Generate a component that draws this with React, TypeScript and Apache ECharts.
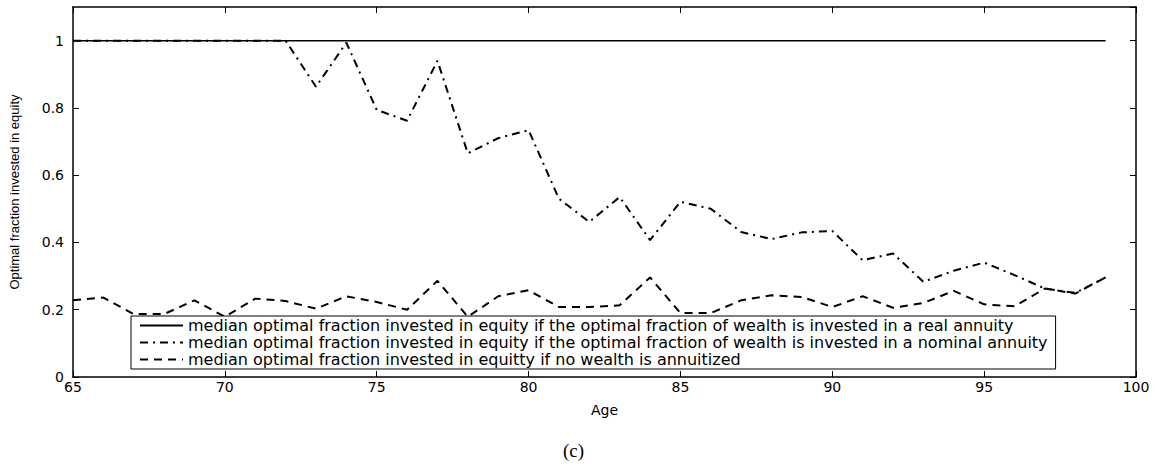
import React, { useEffect, useRef } from "react";
import * as echarts from "echarts";

const ages = [65, 66, 67, 68, 69, 70, 71, 72, 73, 74, 75, 76, 77, 78, 79, 80, 81, 82, 83, 84, 85, 86, 87, 88, 89, 90, 91, 92, 93, 94, 95, 96, 97, 98, 99];
const realAnnuity = [1, 1, 1, 1, 1, 1, 1, 1, 1, 1, 1, 1, 1, 1, 1, 1, 1, 1, 1, 1, 1, 1, 1, 1, 1, 1, 1, 1, 1, 1, 1, 1, 1, 1, 1];
const nominalAnnuity = [1, 1, 1, 1, 1, 1, 1, 1, 0.863, 0.994, 0.794, 0.762, 0.94, 0.665, 0.71, 0.734, 0.53, 0.461, 0.535, 0.407, 0.521, 0.5, 0.431, 0.41, 0.43, 0.434, 0.347, 0.367, 0.283, 0.316, 0.34, 0.303, 0.263, 0.25, 0.296];
const noAnnuity = [0.228, 0.236, 0.187, 0.187, 0.228, 0.179, 0.233, 0.226, 0.203, 0.24, 0.223, 0.2, 0.286, 0.179, 0.24, 0.258, 0.208, 0.208, 0.213, 0.296, 0.19, 0.19, 0.228, 0.243, 0.238, 0.208, 0.24, 0.206, 0.22, 0.256, 0.216, 0.21, 0.263, 0.248, 0.296];
const seriesNames = [
  "median optimal fraction invested in equity if the optimal fraction of wealth is invested in a real annuity",
  "median optimal fraction invested in equity if the optimal fraction of wealth is invested in a nominal annuity",
  "median optimal fraction invested in equitty if no wealth is annuitized",
];

export default function App() {
  const ref = useRef<HTMLDivElement>(null);
  useEffect(() => {
    document.body.style.margin = "0";
    const chart = echarts.init(ref.current!, null, { renderer: "svg" });
    const tickFont = { fontFamily: "DejaVu Sans", fontSize: 14, color: "#000" };
    const pair = (arr: number[]) => ages.map((a, i) => [a, arr[i]]);
    chart.setOption({
      animation: false,
      backgroundColor: "#fff",
      grid: { left: 72, right: 31, top: 7, bottom: 90 },
      xAxis: [
        {
          type: "value", min: 65, max: 100, interval: 5,
          name: "Age", nameLocation: "middle", nameGap: 26,
          nameTextStyle: { fontFamily: "DejaVu Sans", fontSize: 14, color: "#000" },
          axisLine: { show: true, onZero: false, lineStyle: { color: "#000", width: 1.5 } },
          axisTick: { show: true, inside: true, length: 6, lineStyle: { color: "#000" } },
          axisLabel: { ...tickFont, margin: 3 },
          splitLine: { show: false },
        },
        {
          type: "value", min: 65, max: 100, interval: 5, position: "top",
          axisLine: { show: true, onZero: false, lineStyle: { color: "#000", width: 1.5 } },
          axisTick: { show: true, inside: true, length: 6, lineStyle: { color: "#000" } },
          axisLabel: { show: false },
          splitLine: { show: false },
        },
      ],
      yAxis: [
        {
          type: "value", min: 0, max: 1.1, interval: 0.2,
          name: "Optimal fraction invested in equity", nameLocation: "middle", nameGap: 52,
          nameTextStyle: { fontFamily: "Liberation Sans Narrow, Liberation Sans", fontSize: 13, color: "#000" },
          axisLine: { show: true, onZero: false, lineStyle: { color: "#000", width: 1.5 } },
          axisTick: { show: true, inside: true, length: 6, lineStyle: { color: "#000" } },
          axisLabel: { ...tickFont, margin: 9, showMaxLabel: false, formatter: (v: number) => (v > 1.05 ? "" : String(Math.round(v * 10) / 10)) },
          splitLine: { show: false },
        },
        {
          type: "value", min: 0, max: 1.1, interval: 0.2, position: "right",
          axisLine: { show: true, onZero: false, lineStyle: { color: "#000", width: 1.5 } },
          axisTick: { show: true, inside: true, length: 6, lineStyle: { color: "#000" } },
          axisLabel: { show: false },
          splitLine: { show: false },
        },
      ],
      legend: {
        show: true,
        orient: "vertical",
        left: 131,
        top: 316,
        itemWidth: 43,
        itemHeight: 17,
        itemGap: 0,
        padding: [1, 8, 1, 8],
        borderColor: "#000",
        borderWidth: 1,
        backgroundColor: "#fff",
        itemStyle: { opacity: 0 },
        textStyle: { fontFamily: "DejaVu Sans", fontSize: 16, lineHeight: 17, color: "#000" },
        data: seriesNames,
      },
      series: [
        {
          name: seriesNames[0], type: "line", data: pair(realAnnuity), symbol: "none",
          lineStyle: { color: "#000", width: 1.5, type: "solid" }, itemStyle: { color: "#000" }, z: 2,
        },
        {
          name: seriesNames[1], type: "line", data: pair(nominalAnnuity), symbol: "none",
          lineStyle: { color: "#000", width: 2, type: [8, 5, 2, 5] }, itemStyle: { color: "#000" }, z: 3,
        },
        {
          name: seriesNames[2], type: "line", data: pair(noAnnuity), symbol: "none",
          lineStyle: { color: "#000", width: 2, type: [8, 6] }, itemStyle: { color: "#000" }, z: 3,
        },
      ],
      graphic: [
        {
          type: "text", left: 563, top: 441,
          style: { text: "(c)", fontFamily: "Liberation Serif", fontSize: 19, fill: "#000" },
        },
      ],
    });
    return () => chart.dispose();
  }, []);
  return <div ref={ref} style={{ width: 1167, height: 467 }} />;
}
